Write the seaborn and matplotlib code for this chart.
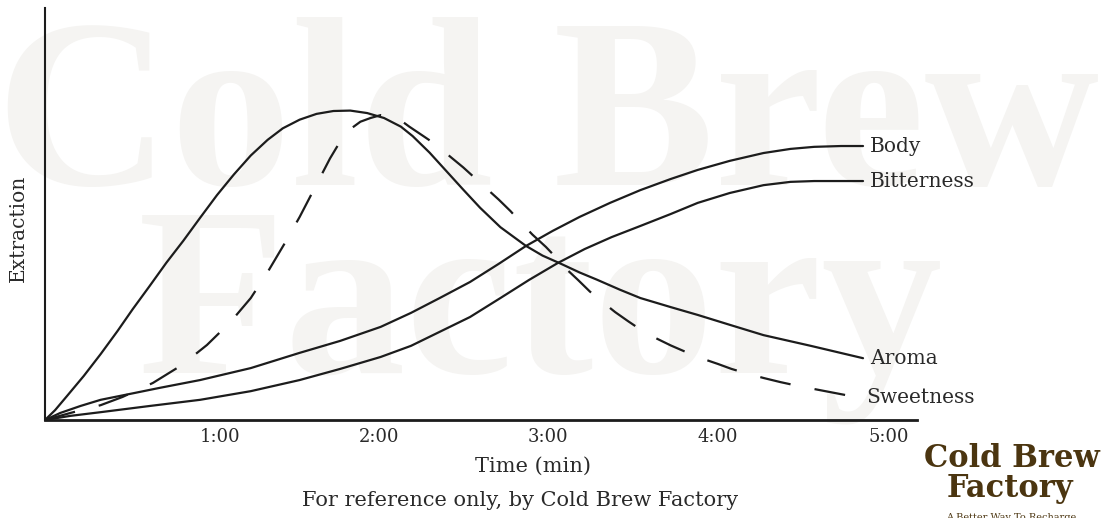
import matplotlib
matplotlib.use("Agg")
import matplotlib.pyplot as plt
import seaborn as sns

# ── Data (time in minutes, extraction 0-100) ──
aroma_t = [0, 0.06, 0.13, 0.23, 0.33, 0.43, 0.52, 0.62, 0.72, 0.82, 0.92, 1.02,
           1.12, 1.22, 1.32, 1.41, 1.51, 1.61, 1.71, 1.81, 1.91, 2.01, 2.11, 2.18,
           2.28, 2.38, 2.48, 2.58, 2.70, 2.85, 2.95, 3.06, 3.17, 3.27, 3.41, 3.53,
           3.71, 3.87, 4.06, 4.26, 4.54, 4.85]
aroma_v = [0, 2.4, 5.8, 10.7, 16.0, 21.6, 26.9, 32.5, 38.2, 43.5, 49.1, 54.6,
           59.6, 64.2, 68.0, 70.8, 72.9, 74.3, 75.0, 75.1, 74.5, 73.3, 71.2, 68.9,
           64.9, 60.4, 55.9, 51.5, 46.8, 42.3, 39.9, 37.9, 35.8, 34.1, 31.6, 29.6,
           27.4, 25.5, 23.1, 20.6, 18.0, 15.0]

sweet_t = [0, 0.15, 0.33, 0.46, 0.64, 0.81, 0.96, 1.10, 1.22, 1.32, 1.42, 1.51,
           1.60, 1.69, 1.75, 1.81, 1.87, 1.93, 1.99, 2.05, 2.11, 2.16, 2.24, 2.33,
           2.40, 2.48, 2.55, 2.62, 2.69, 2.76, 2.82, 2.89, 2.97, 3.04, 3.10, 3.16,
           3.23, 3.31, 3.38, 3.46, 3.54, 3.63, 3.71, 3.80, 3.89, 3.99, 4.07, 4.16,
           4.26, 4.36, 4.45, 4.55, 4.69, 4.83]
sweet_v = [0, 1.7, 3.6, 5.6, 9.0, 13.3, 18.2, 23.8, 29.6, 35.9, 42.8, 49.3,
           56.4, 63.5, 67.6, 70.6, 72.4, 73.3, 74.0, 73.7, 72.7, 71.2, 69.0, 66.5,
           64.0, 61.3, 58.7, 56.1, 53.5, 50.7, 48.0, 45.0, 42.0, 39.0, 36.3, 34.0,
           31.2, 28.5, 26.2, 23.9, 21.7, 19.7, 18.1, 16.5, 15.0, 13.6, 12.4, 11.3,
           10.2, 9.2, 8.4, 7.6, 6.5, 5.4]

body_t = [0, 0.09, 0.21, 0.33, 0.50, 0.68, 0.92, 1.22, 1.51, 1.75, 1.99, 2.17,
          2.34, 2.52, 2.69, 2.85, 3.01, 3.17, 3.35, 3.53, 3.71, 3.87, 4.06, 4.26,
          4.42, 4.56, 4.72, 4.85]
body_v = [0, 1.7, 3.4, 4.9, 6.3, 7.8, 9.7, 12.6, 16.3, 19.2, 22.6, 26.0,
          29.6, 33.5, 37.9, 42.2, 45.9, 49.3, 52.7, 55.8, 58.5, 60.7, 62.9, 64.8,
          65.8, 66.3, 66.5, 66.5]

bitter_t = [0, 0.15, 0.33, 0.62, 0.92, 1.22, 1.51, 1.75, 1.99, 2.17, 2.34, 2.52,
            2.70, 2.87, 3.04, 3.20, 3.36, 3.53, 3.71, 3.87, 4.06, 4.26, 4.42, 4.56,
            4.72, 4.85]
bitter_v = [0, 1.0, 1.9, 3.4, 4.9, 7.0, 9.7, 12.4, 15.3, 18.0, 21.4, 25.0,
            29.6, 34.0, 38.1, 41.5, 44.4, 47.1, 50.0, 52.7, 55.1, 57.0, 57.8, 58.0,
            58.0, 58.0]

tick_pos = [1.04, 1.98, 2.98, 3.99, 5.0]
tick_labels = ["1:00", "2:00", "3:00", "4:00", "5:00"]

# ── Styling ─────────────────────────────────
sns.set_theme(style="white")
plt.rcParams["font.family"] = ["DejaVu Serif"]
INK = "#1c1c1c"
TXT = "#2a2a2a"
BROWN = "#4b3510"
MARK = "#f5f4f2"

fig = plt.figure(figsize=(11.15, 5.18), dpi=100)
ax = fig.add_axes([45 / 1115, 98 / 518, 872 / 1115, 412 / 518])
ax.patch.set_alpha(0)

# watermark behind everything
wm = dict(family=["Liberation Serif"], fontweight="bold", fontsize=174,
          color=MARK, ha="center", va="baseline", zorder=-1)
fig.text(548 / 1115, 1 - 185 / 518, "Cold Brew", **wm)
fig.text(540 / 1115, 1 - 372 / 518, "Factory", **wm)

lw = 1.6
line_kw = dict(color=INK, linewidth=lw, estimator=None, solid_joinstyle="round")
sns.lineplot(x=aroma_t, y=aroma_v, ax=ax, **line_kw)
sns.lineplot(x=body_t, y=body_v, ax=ax, **line_kw)
sns.lineplot(x=bitter_t, y=bitter_v, ax=ax, **line_kw)
sns.lineplot(x=sweet_t, y=sweet_v, ax=ax, **line_kw)
ax.lines[-1].set_dashes([14, 11])

for name, t, v in [("Body", body_t, body_v), ("Bitterness", bitter_t, bitter_v),
                   ("Aroma", aroma_t, aroma_v), ("Sweetness", sweet_t, sweet_v)]:
    ax.annotate(name, (t[-1], v[-1]), xytext=(5, 0), textcoords="offset points",
                ha="left", va="center", fontsize=14.5, color=TXT)

ax.set_xlim(0, 5.17)
ax.set_ylim(0, 100)
ax.set_xticks(tick_pos)
ax.set_xticklabels(tick_labels, fontsize=13, color=TXT)
ax.set_yticks([])
ax.tick_params(axis="x", length=0, pad=6)
sns.despine(ax=ax)
ax.spines["left"].set_color(INK)
ax.spines["left"].set_linewidth(1.5)
ax.spines["bottom"].set_color(INK)
ax.spines["bottom"].set_linewidth(2.0)

ax.set_xlabel("")
ax.set_ylabel("")
fig.text(533 / 1115, 1 - 466 / 518, "Time (min)", ha="center", va="center",
         fontsize=15, color=TXT)
fig.text(18 / 1115, 1 - 228 / 518, "Extraction", ha="center", va="center",
         rotation=90, fontsize=14.5, color=TXT)
fig.text(520 / 1115, 1 - 500 / 518, "For reference only, by Cold Brew Factory",
         ha="center", va="center", fontsize=15, color=TXT)

# logo
fig.text(1012 / 1115, 1 - 467 / 518, "Cold Brew", ha="center", va="baseline",
         fontsize=22, fontweight="bold", color=BROWN)
fig.text(1010 / 1115, 1 - 497 / 518, "Factory", ha="center", va="baseline",
         fontsize=22, fontweight="bold", color=BROWN)
fig.text(1011 / 1115, 1 - 520 / 518, "A Better Way To Recharge", ha="center",
         va="baseline", fontsize=7, color=BROWN)

fig.savefig("out.png", dpi=100)
